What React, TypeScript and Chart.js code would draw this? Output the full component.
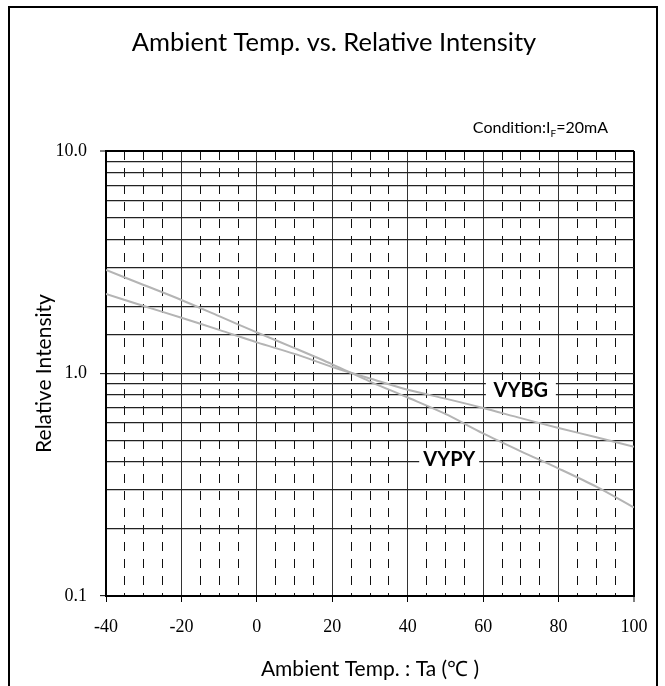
import React, { useEffect, useRef } from "react";
import { Chart, registerables } from "chart.js";

Chart.register(...registerables);

// ---- data ----
const temperatures = [-40, -30, -20, -10, 0, 10, 20, 30, 40, 50, 60, 70, 80, 90, 100];
const vybgIntensity = [2.28, 2.01, 1.78, 1.57, 1.38, 1.225, 1.07, 0.95, 0.845, 0.771, 0.70, 0.63, 0.569, 0.517, 0.469];
const vypyIntensity = [2.92, 2.5, 2.14, 1.81, 1.53, 1.3, 1.1, 0.92, 0.78, 0.658, 0.538, 0.447, 0.374, 0.31, 0.25];
const seriesNames = ["VYBG", "VYPY"];
const xLabelTicks = [-40, -20, 0, 20, 40, 60, 80, 100];
const yLabelTicks = [0.1, 1, 10];
const titleText = "Ambient Temp. vs. Relative Intensity";
const xTitle = "Ambient Temp. : Ta (℃ )";
const yTitle = "Relative Intensity";
// label anchors in data units (temperature, intensity)
const vybgLabelAt = [70, 0.843];
const vypyLabelAt = [51, 0.413];

const SANS = "Lato, 'Open Sans', sans-serif";
const SERIF = "'Liberation Serif', 'DejaVu Serif', serif";

const isLabeledY = (v: number) => yLabelTicks.some((t) => Math.abs(t - v) < 1e-9);
const isLabeledX = (v: number) => xLabelTicks.includes(v);

const decorPlugin = {
  id: "decor",
  beforeDraw(chart: any) {
    const ctx = chart.ctx;
    ctx.save();
    ctx.strokeStyle = "#000";
    ctx.lineWidth = 2;
    ctx.strokeRect(9, 7, 648, 700);
    ctx.restore();
  },
  afterDatasetsDraw(chart: any) {
    const ctx = chart.ctx;
    const xs = chart.scales.x;
    const ys = chart.scales.y;
    const drawTag = (text: string, at: number[], w: number, h: number) => {
      const px = xs.getPixelForValue(at[0]);
      const py = ys.getPixelForValue(at[1]);
      ctx.save();
      ctx.fillStyle = "#fff";
      ctx.fillRect(px - w / 2, py - h / 2, w, h);
      ctx.fillStyle = "#000";
      ctx.font = `bold 20px ${SANS}`;
      ctx.textAlign = "center";
      ctx.textBaseline = "middle";
      ctx.fillText(text, px, py + 1);
      ctx.restore();
    };
    drawTag(seriesNames[0], vybgLabelAt, 70, 20);
    drawTag(seriesNames[1], vypyLabelAt, 60, 22);
  },
  afterDraw(chart: any) {
    const ctx = chart.ctx;
    ctx.save();
    ctx.fillStyle = "#000";
    ctx.font = `25.5px ${SANS}`;
    ctx.textAlign = "center";
    ctx.textBaseline = "alphabetic";
    ctx.fillText(titleText, 334, 51);

    // Condition:I_F=20mA
    ctx.textAlign = "left";
    const big = `16px ${SANS}`;
    const small = `10px ${SANS}`;
    const p1 = "Condition:I";
    const p2 = "F";
    const p3 = "=20mA";
    ctx.font = big;
    const w1 = ctx.measureText(p1).width;
    const w3 = ctx.measureText(p3).width;
    ctx.font = small;
    const w2 = ctx.measureText(p2).width;
    const right = 608;
    let x = right - (w1 + w2 + w3);
    const base = 133;
    ctx.font = big;
    ctx.fillText(p1, x, base);
    x += w1;
    ctx.font = small;
    ctx.fillText(p2, x, base + 4);
    x += w2;
    ctx.font = big;
    ctx.fillText(p3, x, base);
    ctx.restore();
  },
};

export default function App() {
  const ref = useRef<HTMLCanvasElement | null>(null);

  useEffect(() => {
    if (!ref.current) return;
    const chart = new Chart(ref.current, {
      type: "line",
      data: {
        datasets: [
          {
            label: seriesNames[0],
            data: temperatures.map((t, i) => ({ x: t, y: vybgIntensity[i] })),
            borderColor: "#b4b4b4",
            borderWidth: 2,
            pointRadius: 0,
            tension: 0.3,
          },
          {
            label: seriesNames[1],
            data: temperatures.map((t, i) => ({ x: t, y: vypyIntensity[i] })),
            borderColor: "#b4b4b4",
            borderWidth: 2,
            pointRadius: 0,
            tension: 0.3,
          },
        ],
      },
      options: {
        animation: false,
        responsive: false,
        devicePixelRatio: 1,
        layout: { padding: { left: 0, right: 31, top: 151, bottom: 0 } },
        plugins: {
          legend: { display: false },
          tooltip: { enabled: false },
          title: { display: false },
        },
        scales: {
          x: {
            type: "linear",
            min: -40,
            max: 100,
            afterFit: (s: any) => {
              s.height = 90;
            },
            ticks: {
              stepSize: 5,
              autoSkip: false,
              maxRotation: 0,
              padding: 14,
              color: "#000",
              font: { family: SERIF, size: 18 },
              callback: (v: any) => (isLabeledX(Number(v)) ? String(v) : ""),
            },
            grid: {
              color: (c: any) => {
                const v = c.tick ? c.tick.value : 0;
                if (v === 100) return "#000";
                if (v % 20 === 0) return "#333";
                return "#111";
              },
              lineWidth: (c: any) => (c.tick && c.tick.value === 100 ? 2 : 1),
              tickColor: (c: any) => (c.tick && isLabeledX(c.tick.value) ? "#000" : "rgba(0,0,0,0)"),
              tickLength: 6,
              tickWidth: 1,
            },
            border: {
              display: true,
              color: "#000",
              width: 2,
              dash: (c: any) => (c.tick && c.tick.value % 20 !== 0 ? [9, 8] : []),
            },
            title: {
              display: true,
              text: xTitle,
              color: "#000",
              font: { family: SANS, size: 21 },
              padding: { top: 0, bottom: 4 },
            },
          },
          y: {
            type: "logarithmic",
            min: 0.1,
            max: 10,
            afterFit: (s: any) => {
              s.width = 106;
            },
            ticks: {
              autoSkip: false,
              padding: 13,
              color: "#000",
              font: { family: SERIF, size: 18 },
              callback: (v: any) => (isLabeledY(Number(v)) ? Number(v).toFixed(1) : ""),
            },
            grid: {
              color: (c: any) => (c.tick && Math.abs(c.tick.value - 10) < 1e-9 ? "#000" : "#222"),
              lineWidth: (c: any) => (c.tick && Math.abs(c.tick.value - 10) < 1e-9 ? 2 : 1.3),
              tickColor: (c: any) => (c.tick && isLabeledY(c.tick.value) ? "#000" : "rgba(0,0,0,0)"),
              tickLength: 6,
              tickWidth: 1,
            },
            border: { display: true, color: "#000", width: 2 },
            title: {
              display: true,
              text: yTitle,
              color: "#000",
              font: { family: SANS, size: 21 },
              padding: { top: 32, bottom: 0 },
            },
          },
        },
      },
      plugins: [decorPlugin],
    } as any);
    return () => chart.destroy();
  }, []);

  return (
    <div style={{ position: "absolute", left: 0, top: 0, width: 665, height: 686, background: "#fff" }}>
      <canvas ref={ref} width={665} height={686} style={{ display: "block" }} />
    </div>
  );
}
